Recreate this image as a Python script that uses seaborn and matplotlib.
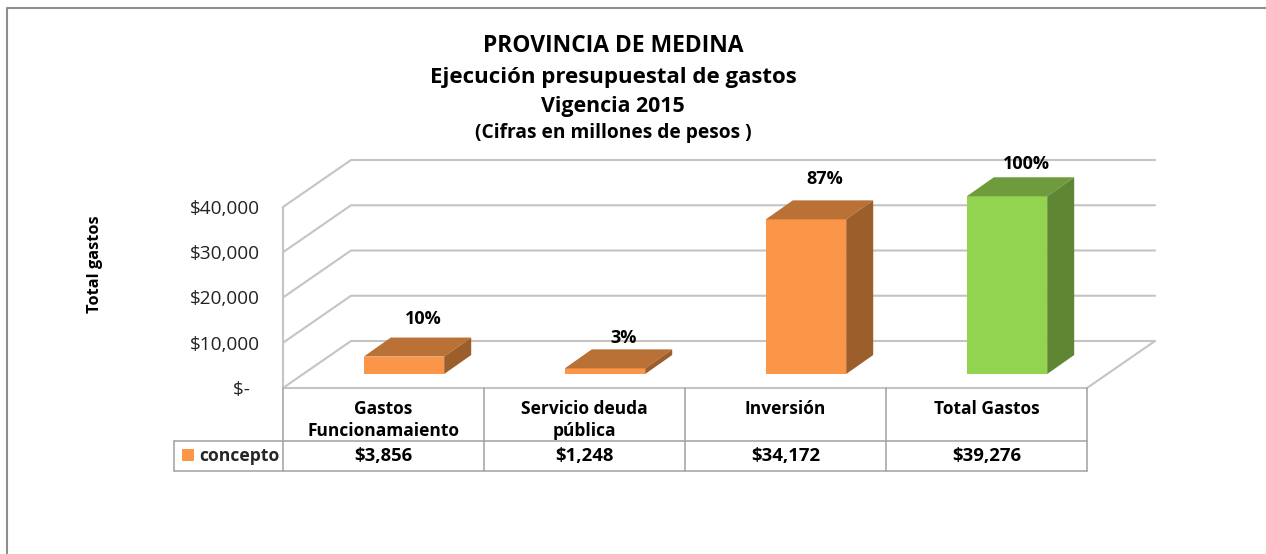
import matplotlib
matplotlib.use('Agg')
import matplotlib.pyplot as plt
import matplotlib.transforms as mtrans
from matplotlib.patches import Patch, Polygon
import pandas as pd
import seaborn as sns

# ---------------- data ----------------
conceptos = ['Gastos\nFuncionamaiento', 'Servicio deuda\npública', 'Inversión', 'Total Gastos']
valores = [3856, 1248, 34172, 39276]
porcentajes = ['10%', '3%', '87%', '100%']
valor_labels = ['$3,856', '$1,248', '$34,172', '$39,276']
y_ticks = [0, 10000, 20000, 30000, 40000]
y_labels = ['$-\u00a0\u00a0', '$10,000', '$20,000', '$30,000', '$40,000']
titulos = ['PROVINCIA DE MEDINA', 'Ejecución presupuestal de gastos',
           'Vigencia 2015', '(Cifras en millones de pesos )']

# ---------------- style ----------------
naranja = '#FB9648'
verde = '#92D34F'
frente = [naranja, naranja, naranja, verde]
tapa = ['#B97135', '#B97135', '#B97135', '#6E9C3C']
lado = ['#9C5E2B', '#9C5E2B', '#9C5E2B', '#5F8733']
grid_c = '#C4C4C4'
table_c = '#A0A0A0'
label_dy = [38, 30, 40, 32]  # px above bar top
open_sans = ['Open Sans', 'DejaVu Sans']

sns.set_theme(style='white')
plt.rcParams['font.family'] = open_sans

W, H = 1266, 554
fig = plt.figure(figsize=(W / 100, H / 100), dpi=100)
ax = fig.add_axes([283 / W, 1 - 388 / H, 804 / W, 181 / H])

df = pd.DataFrame({'concepto': conceptos, 'valor': valores})
sns.barplot(data=df, x='concepto', y='valor', hue='concepto',
            palette=dict(zip(conceptos, frente)), width=0.4, legend=False,
            saturation=1, ax=ax, zorder=3)
ax.set_xlim(-0.5, 3.5)
ax.set_ylim(0, 40000)
sns.despine(ax=ax, top=True, right=True, bottom=True, left=True)

# px -> data
px_x = 4 / 804
px_y = 40000 / 181

# back wall and side wall lines
wall_dx, wall_dy = 68 * px_x, 47 * px_y
line_kw = dict(color=grid_c, lw=1.5, clip_on=False, zorder=1)
for v in y_ticks:
    ax.plot([-0.5, -0.5 + wall_dx, 3.5 + wall_dx], [v, v + wall_dy, v + wall_dy], **line_kw)
ax.plot([-0.5, -0.5], [0, 40000], **line_kw)
ax.plot([-0.5, 3.5, 3.5 + wall_dx], [0, 0, wall_dy], **line_kw)

# bars sit in the middle of the floor, faked 3d faces
bar_trans = mtrans.offset_copy(ax.transData, fig, x=20.5, y=14, units='dots')
depth_dx, depth_dy = 27 * px_x, 19 * px_y
for i, bar in enumerate(ax.patches):
    bar.set_transform(bar_trans)
    bar.set_clip_on(False)
    bar.set_linewidth(0)
    x0, x1 = bar.get_x(), bar.get_x() + bar.get_width()
    top = bar.get_height()
    ax.add_patch(Polygon([(x0, top), (x1, top), (x1 + depth_dx, top + depth_dy), (x0 + depth_dx, top + depth_dy)],
                         closed=True, fc=tapa[i], ec='none', transform=bar_trans, clip_on=False, zorder=3))
    ax.add_patch(Polygon([(x1, 0), (x1, top), (x1 + depth_dx, top + depth_dy), (x1 + depth_dx, depth_dy)],
                         closed=True, fc=lado[i], ec='none', transform=bar_trans, clip_on=False, zorder=3))
    ax.annotate(porcentajes[i], xy=((x0 + x1) / 2, top), xycoords=bar_trans,
                xytext=(19, label_dy[i]), textcoords='offset pixels',
                ha='center', va='center', fontsize=13, fontweight='bold',
                color='black', zorder=5)

# axis labels
ax.set_yticks(y_ticks)
ax.set_yticklabels(y_labels, fontsize=13.7, color='#222222')
ax.tick_params(axis='y', length=0, pad=17)
ax.set_xticks([])
ax.set_xlabel('')
ax.set_ylabel('Total gastos', fontsize=11.8, fontweight='bold', color='black')
ax.yaxis.set_label_coords(-180 / 804, 124 / 181)

# data table below the plot
tr = ax.get_xaxis_transform()
y_row = -53 / 181
y_bot = -83 / 181
x_left = -0.5 - 109 * px_x
t_kw = dict(color=table_c, lw=1.1, clip_on=False, transform=tr, zorder=2)
for k in range(5):
    ax.plot([k - 0.5, k - 0.5], [0, y_bot], **t_kw)
ax.plot([x_left, 3.5], [y_row, y_row], **t_kw)
ax.plot([x_left, 3.5], [y_bot, y_bot], **t_kw)
ax.plot([x_left, x_left], [y_row, y_bot], **t_kw)
for k, (c, v) in enumerate(zip(conceptos, valor_labels)):
    ax.text(k, -12 / 181, c, transform=tr, ha='center', va='top', fontsize=12.5, fontweight='bold',
            color='black', linespacing=1.3)
    ax.text(k, -68 / 181, v, transform=tr, ha='center', va='center', fontsize=13.3, fontweight='bold',
            color='black')

leg = ax.legend(handles=[Patch(fc=naranja, ec='none', label='concepto')],
                loc='center left', bbox_to_anchor=(182 / W, 1 - 456 / H),
                bbox_transform=fig.transFigure, frameon=False, handlelength=0.7,
                handleheight=0.7, handletextpad=0.3, borderpad=0, borderaxespad=0,
                prop={'size': 12.6, 'weight': 'bold'})

# titles
title_y = [46, 77, 106, 133]
title_fs = [16.5, 16, 15.4, 13.8]
for txt, y, fs in zip(titulos, title_y, title_fs):
    fig.text(613 / W, 1 - y / H, txt, ha='center', va='center', fontsize=fs,
             fontweight='bold', color='black')

# chart area border, runs off the crop
fig.add_artist(plt.Line2D([7.5 / W, 7.5 / W, 1], [0, 1 - 7.5 / H, 1 - 7.5 / H],
                          color='#8E8E8E', lw=1.5))

fig.savefig('out.png', dpi=100)
